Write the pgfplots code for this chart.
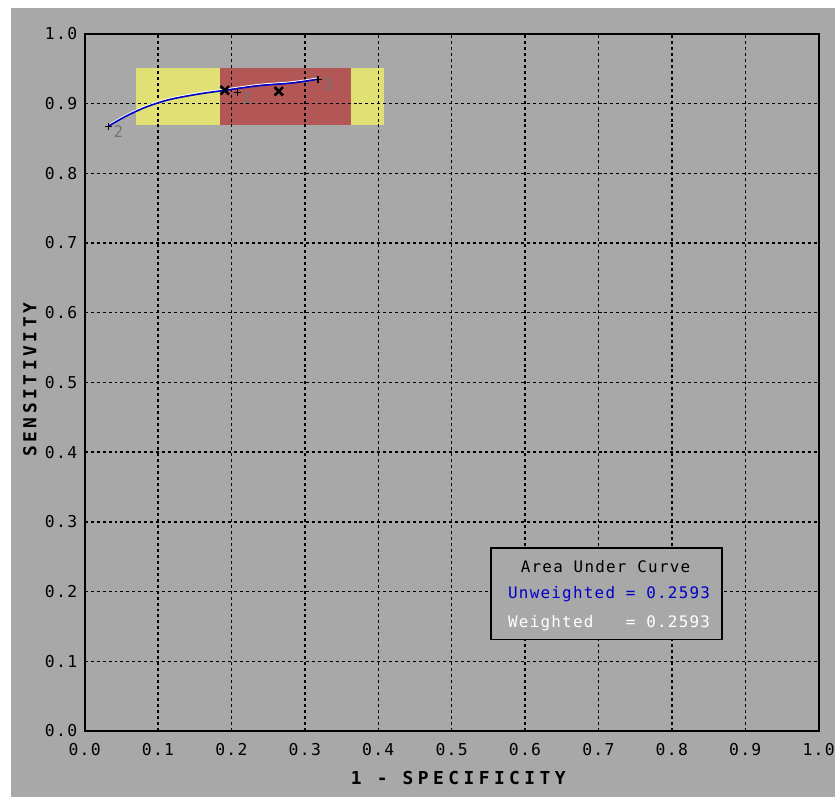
\documentclass[border=0pt]{standalone}
\usepackage{pgfplots}
\pgfplotsset{compat=1.18}
\usepackage{fontspec}
\setmainfont{DejaVu Sans Mono}
\setmonofont{DejaVu Sans Mono}
\newfontfamily\xlblfont{DejaVu Sans Mono}[LetterSpace=25]
\newfontfamily\ylblfont{DejaVu Sans Mono}[LetterSpace=20]
\newfontfamily\legfont{DejaVu Sans Mono}[LetterSpace=8]
\definecolor{bg}{RGB}{168,168,168}
\definecolor{yel}{RGB}{224,224,116}
\definecolor{rd}{RGB}{178,86,86}
\definecolor{cblue}{RGB}{0,0,200}
\definecolor{lblgray}{RGB}{115,115,115}
\begin{document}
\begin{tikzpicture}[x=1bp,y=1bp]
\begin{axis}[at={(85bp,67bp)}, anchor=south west, scale only axis,
  width=737bp, height=700bp, set layers, clip=false,
  xmin=0, xmax=1, ymin=0, ymax=1,
  xtick={0,0.1,0.2,0.3,0.4,0.5,0.6,0.7,0.8,0.9,1.0},
  ytick={0,0.1,0.2,0.3,0.4,0.5,0.6,0.7,0.8,0.9,1.0},
  xticklabels={0.0,0.1,0.2,0.3,0.4,0.5,0.6,0.7,0.8,0.9,1.0},
  yticklabels={0.0,0.1,0.2,0.3,0.4,0.5,0.6,0.7,0.8,0.9,1.0},
  major tick length=0pt,
  grid=major,
  major grid style={black, line width=1.4bp, dash pattern=on 3bp off 3bp},
  axis line style={black, line width=2bp},
  ticklabel style={font=\fontsize{16.5}{18}\selectfont\legfont},
  xticklabel style={yshift=-9bp},
  yticklabel style={xshift=-4bp},
  xlabel={\bfseries 1 - SPECIFICITY},
  ylabel={\bfseries SENSITIVITY},
  xlabel style={font=\fontsize{18}{20}\selectfont\xlblfont, at={(axis description cs:0.509,-0.067)}, anchor=center},
  ylabel style={font=\fontsize{18}{20}\selectfont\ylblfont, at={(axis description cs:-0.0746,0.504)}, anchor=center, rotate=0},
]
% page background
\begin{pgfonlayer}{axis background}
\fill[white] (rel axis cs:-0.1153,-0.0957) rectangle (rel axis cs:1.0217,1.0486);
\fill[bg] (rel axis cs:-0.1004,-0.0943) rectangle (rel axis cs:1.0217,1.0371);
\end{pgfonlayer}
% confidence bands
\addplot[on layer=axis background, fill=yel, draw=none] coordinates
  {(0.0706,0.8686) (0.408,0.8686) (0.408,0.951) (0.0706,0.951)} -- cycle;
\addplot[on layer=axis background, fill=rd, draw=none] coordinates
  {(0.1845,0.8686) (0.363,0.8686) (0.363,0.951) (0.1845,0.951)} -- cycle;
% curve
\addplot[white, line width=1bp, yshift=1.3bp, smooth] coordinates
  {(0.033,0.868) (0.0565,0.882) (0.0836,0.895) (0.1153,0.9057) (0.156,0.9138)
   (0.191,0.919) (0.2375,0.9257) (0.2826,0.9295) (0.318,0.935)};
\addplot[cblue, line width=1.6bp, smooth] coordinates
  {(0.033,0.868) (0.0565,0.882) (0.0836,0.895) (0.1153,0.9057) (0.156,0.9138)
   (0.191,0.919) (0.2375,0.9257) (0.2826,0.9295) (0.318,0.935)};
% operating points
\addplot[only marks, mark=+, mark size=3.5bp, black, line width=1.2bp,
  nodes near coords, point meta=explicit symbolic,
  nodes near coords style={font=\fontsize{16}{18}\selectfont, text=lblgray, anchor=west, xshift=1bp, yshift=-5bp}]
  coordinates {(0.208,0.916) [1] (0.033,0.8676) [2] (0.318,0.935) [3]};
\addplot[only marks, mark=x, mark size=6bp, black, line width=2.6bp]
  coordinates {(0.191,0.919) (0.2646,0.9176)};
% AUC box
\draw[black, line width=1.6bp, fill=bg] (axis cs:0.5536,0.1314) rectangle (axis cs:0.868,0.2629);
\node[font=\fontsize{16}{18}\selectfont\legfont, anchor=center] at (axis cs:0.7097,0.2357) {Area Under Curve};
\node[font=\fontsize{16}{18}\selectfont\legfont, anchor=west, text=cblue, inner sep=0pt] at (axis cs:0.5767,0.1957) {Unweighted = 0.2593};
\node[font=\fontsize{16}{18}\selectfont\legfont, anchor=west, text=white, inner sep=0pt] at (axis cs:0.5767,0.1543) {Weighted\ \ \ = 0.2593};
\end{axis}
\end{tikzpicture}
\end{document}
